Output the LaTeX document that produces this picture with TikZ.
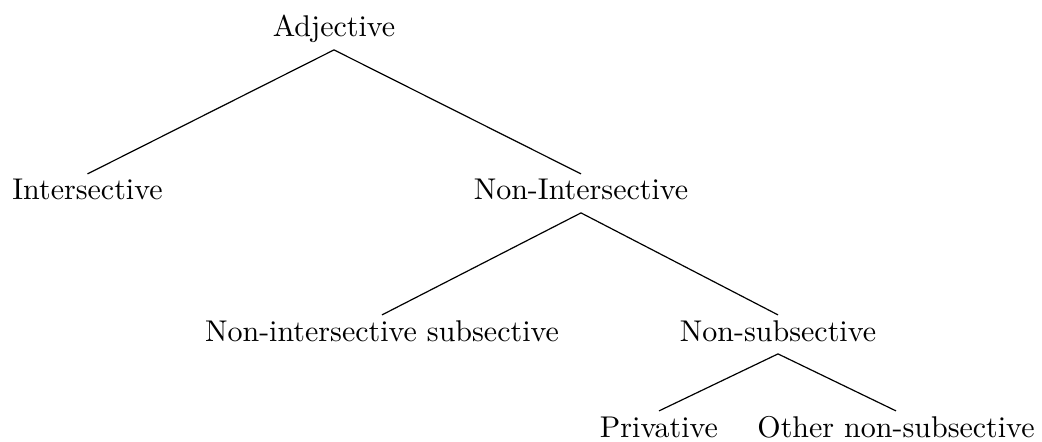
\documentclass[tikz,border=0pt]{standalone}
\begin{document}
\begin{tikzpicture}[x=0.33333pt,y=-0.33333pt,
  lbl/.style={anchor=base,inner xsep=1pt,inner ysep=2pt,text height=6.5pt,text depth=2.1pt},
  edge/.style={draw,line width=0.4pt}]
\useasboundingbox (0,0) rectangle (1042,442);
\node[lbl] (adj) at (334,37) {Adjective};
\node[lbl] (inter) at (87.5,200) {Intersective};
\node[lbl] (nonint) at (581,200) {Non-Intersective};
\node[lbl] (nis) at (382,341) {Non-intersective subsective};
\node[lbl] (nonsub) at (778,341) {Non-subsective};
\node[lbl] (priv) at (659,437) {Privative};
\node[lbl] (other) at (896,437) {Other non-subsective};
\path[edge] (adj.south) -- (inter.north);
\path[edge] (adj.south) -- (nonint.north);
\path[edge] (nonint.south) -- (nis.north);
\path[edge] (nonint.south) -- (nonsub.north);
\path[edge] (nonsub.south) -- (priv.north);
\path[edge] (nonsub.south) -- (other.north);
\end{tikzpicture}
\end{document}
